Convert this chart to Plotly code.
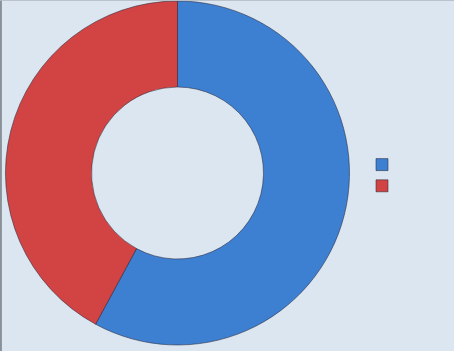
import plotly.graph_objects as go

labels = ["\u00a0", "\u00a0\u00a0"]
values = [57.9, 42.1]
colors = ["#3d7fd1", "#d24444"]

fig = go.Figure(go.Pie(
    labels=labels,
    values=values,
    hole=0.5,
    sort=False,
    direction="clockwise",
    rotation=0,
    textinfo="none",
    hoverinfo="none",
    marker=dict(colors=colors, line=dict(color="rgba(40,40,60,0.55)", width=1)),
    domain=dict(x=[5.5/454, 349.5/454], y=[6/351, 350/351]),
))

fig.update_layout(
    width=454, height=351,
    margin=dict(l=0, r=0, t=0, b=0),
    paper_bgcolor="#dce6f0",
    plot_bgcolor="#dce6f0",
    showlegend=True,
    legend=dict(x=362/454, y=0.5, xanchor="left", yanchor="middle",
                font=dict(size=14, color="#333"), bgcolor="rgba(0,0,0,0)"),
    shapes=[
        dict(type="line", xref="paper", yref="paper", x0=0.002, x1=0.002, y0=0, y1=1,
             line=dict(color="#8a9098", width=2)),
        dict(type="line", xref="paper", yref="paper", x0=0, x1=1, y0=0.999, y1=0.999,
             line=dict(color="#b4bcc4", width=1)),
    ],
)

fig.write_html("out.html")
